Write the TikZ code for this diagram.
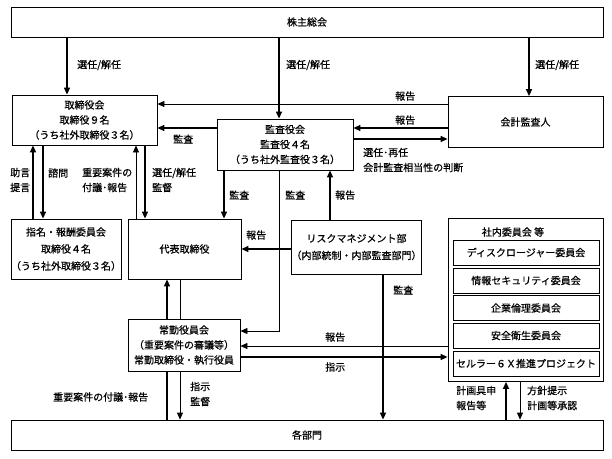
\documentclass[tikz,border=0pt]{standalone}
\usepackage{fontspec}
\setmainfont{Noto Sans CJK JP}[FakeBold=0.6]
\usetikzlibrary{arrows.meta,positioning}
\tikzset{
  caixa/.style={draw, line width=0.8pt, inner sep=0pt, align=center},
  seta/.style={-{Triangle[length=7pt,width=6pt]}, line width=1.4pt},
  setafina/.style={-{Triangle[length=7pt,width=6pt]}, line width=0.8pt},
  linha/.style={line width=1.4pt},
  rotulo/.style={inner sep=0pt, anchor=west, align=left},
}

\begin{document}
\begin{tikzpicture}[x=1pt, y=-1pt, font=\fontsize{10}{15}\selectfont]
  \useasboundingbox (0,0) rectangle (612,458);

  % Caixas principais
  \node[caixa, minimum width=592pt, minimum height=30pt] (soukai) at (307,22) {株主総会};
  \node[caixa, minimum width=145pt, minimum height=50pt] (torishimari) at (84.5,120)
    {取締役会\\取締役９名\\（うち社外取締役３名）};
  \node[caixa, minimum width=136pt, minimum height=51pt] (kansa) at (285,144.5)
    {監査役会\\監査役４名\\（うち社外監査役３名）};
  \node[caixa, minimum width=155pt, minimum height=51pt] (kaikei) at (525.5,122) {会計監査人};
  \node[caixa, minimum width=108pt, minimum height=60pt] (shimei) at (66,249)
    {指名・報酬委員会\\[2pt]取締役４名\\[2pt]（うち社外取締役３名）};
  \node[caixa, minimum width=113pt, minimum height=60pt] (daihyo) at (184.5,249) {代表取締役};
  \node[caixa, minimum width=129pt, minimum height=54pt] (risk) at (356.5,247)
    {リスクマネジメント部\\[2pt]（内部統制・内部監査部門）};
  \node[caixa, minimum width=112pt, minimum height=52pt] (joukin) at (184,345)
    {常勤役員会\\（重要案件の審議等）\\常勤取締役・執行役員};
  \node[caixa, minimum width=592pt, minimum height=30pt] (kakubu) at (307,435) {各部門};

  % Comitês internos
  \node[caixa, minimum width=155pt, minimum height=163pt] (shanai) at (525.5,300) {};
  \node (shanaititulo) at (513,232) {社内委員会 等};
  \foreach \nome/\yy/\txt in {iinA/252.5/ディスクロージャー委員会,
                              iinB/280.5/情報セキュリティ委員会,
                              iinC/308/企業倫理委員会,
                              iinD/335.5/安全衛生委員会,
                              iinE/363.5/セルラー６Ｘ推進プロジェクト}
    \node[caixa, minimum width=146pt, minimum height=25pt] (\nome) at (526,\yy) {\txt};

  % Setas do 株主総会
  \draw[seta] (soukai.south -| 67,0) -- (torishimari.north -| 67,0);
  \draw[seta] (soukai.south -| 279,0) -- (kansa.north -| 279,0);
  \draw[seta] (soukai.south -| 529,0) -- (kaikei.north -| 529,0);
  \node[rotulo] (r1) at (77,65) {選任/解任};
  \node[rotulo] (r2) at (286,65) {選任/解任};
  \node[rotulo] (r3) at (535,65) {選任/解任};

  % 会計監査人 e 監査役会
  \draw[setafina] (kaikei.west |- 0,104) -- (torishimari.east |- 0,104);
  \draw[seta] (kaikei.west |- 0,128) -- (kansa.east |- 0,128);
  \draw[seta] (kansa.east |- 0,139) -- (kaikei.west |- 0,139);
  \draw[seta] (kansa.west |- 0,128) -- (torishimari.east |- 0,128);
  \node[rotulo] (r4) at (395,96) {報告};
  \node[rotulo] (r5) at (395,120) {報告};
  \node[rotulo] (r6) at (363,160) {選任･再任\\会計監査相当性の判断};
  \node[rotulo] (r7) at (173,139) {監査};

  % 取締役会 e comitês
  \draw[seta] (shimei.north -| 33,0) -- (torishimari.south -| 33,0);
  \draw[seta] (torishimari.south -| 43,0) -- (shimei.north -| 43,0);
  \draw[setafina] (daihyo.north -| 136,0) -- (torishimari.south -| 136,0);
  \draw[seta] (torishimari.south -| 145,0) -- (daihyo.north -| 145,0);
  \node[rotulo] (r8) at (10,180) {助言\\提言};
  \node[rotulo] (r9) at (48,173) {諮問};
  \node[rotulo] (r10) at (82,180) {重要案件の\\付議･報告};
  \node[rotulo] (r11) at (152,180) {選任/解任\\監督};

  % Setas do 監査役会 e リスクマネジメント部
  \draw[seta] (kansa.south -| 224,0) -- (daihyo.north -| 224,0);
  \draw[setafina] (kansa.south -| 279,0) |- (joukin.east |- 0,331);
  \draw[seta] (risk.north -| 330,0) -- (kansa.south -| 330,0);
  \draw[seta] (risk.west |- 0,249) -- (daihyo.east |- 0,249);
  \draw[seta] (risk.south -| 383,0) -- (kakubu.north -| 383,0);
  \node[rotulo] (r12) at (229,195) {監査};
  \node[rotulo] (r13) at (285,195) {監査};
  \node[rotulo] (r14) at (335,195) {報告};
  \node[rotulo] (r15) at (246,235) {報告};
  \node[rotulo] (r16) at (393,290) {監査};

  % 常勤役員会
  \draw[setafina] (shanai.west |- 0,346) -- (joukin.east |- 0,346);
  \draw[seta] (joukin.east |- 0,357) -- (shanai.west |- 0,357);
  \node[rotulo] (r17) at (325,337) {報告};
  \node[rotulo] (r18) at (325,367) {指示};
  \draw[linha] (kakubu.north -| 167,0) -- (joukin.south -| 167,0);
  \draw[seta] (joukin.north -| 167,0) -- (daihyo.south -| 167,0);
  \draw[line width=0.8pt] (daihyo.south -| 180,0) -- (joukin.north -| 180,0);
  \draw[setafina] (joukin.south -| 180,0) -- (kakubu.north -| 180,0);
  \node[rotulo] (r19) at (53,397) {重要案件の付議･報告};
  \node[rotulo] (r20) at (190,394) {指示\\監督};

  % 社内委員会 e 各部門
  \draw[seta] (kakubu.north -| 506,0) -- (shanai.south -| 506,0);
  \draw[setafina] (shanai.south -| 520,0) -- (kakubu.north -| 520,0);
  \node[rotulo] (r21) at (456,398) {計画具申\\報告等};
  \node[rotulo] (r22) at (527,398) {方針提示\\計画等承認};
\end{tikzpicture}
\end{document}
